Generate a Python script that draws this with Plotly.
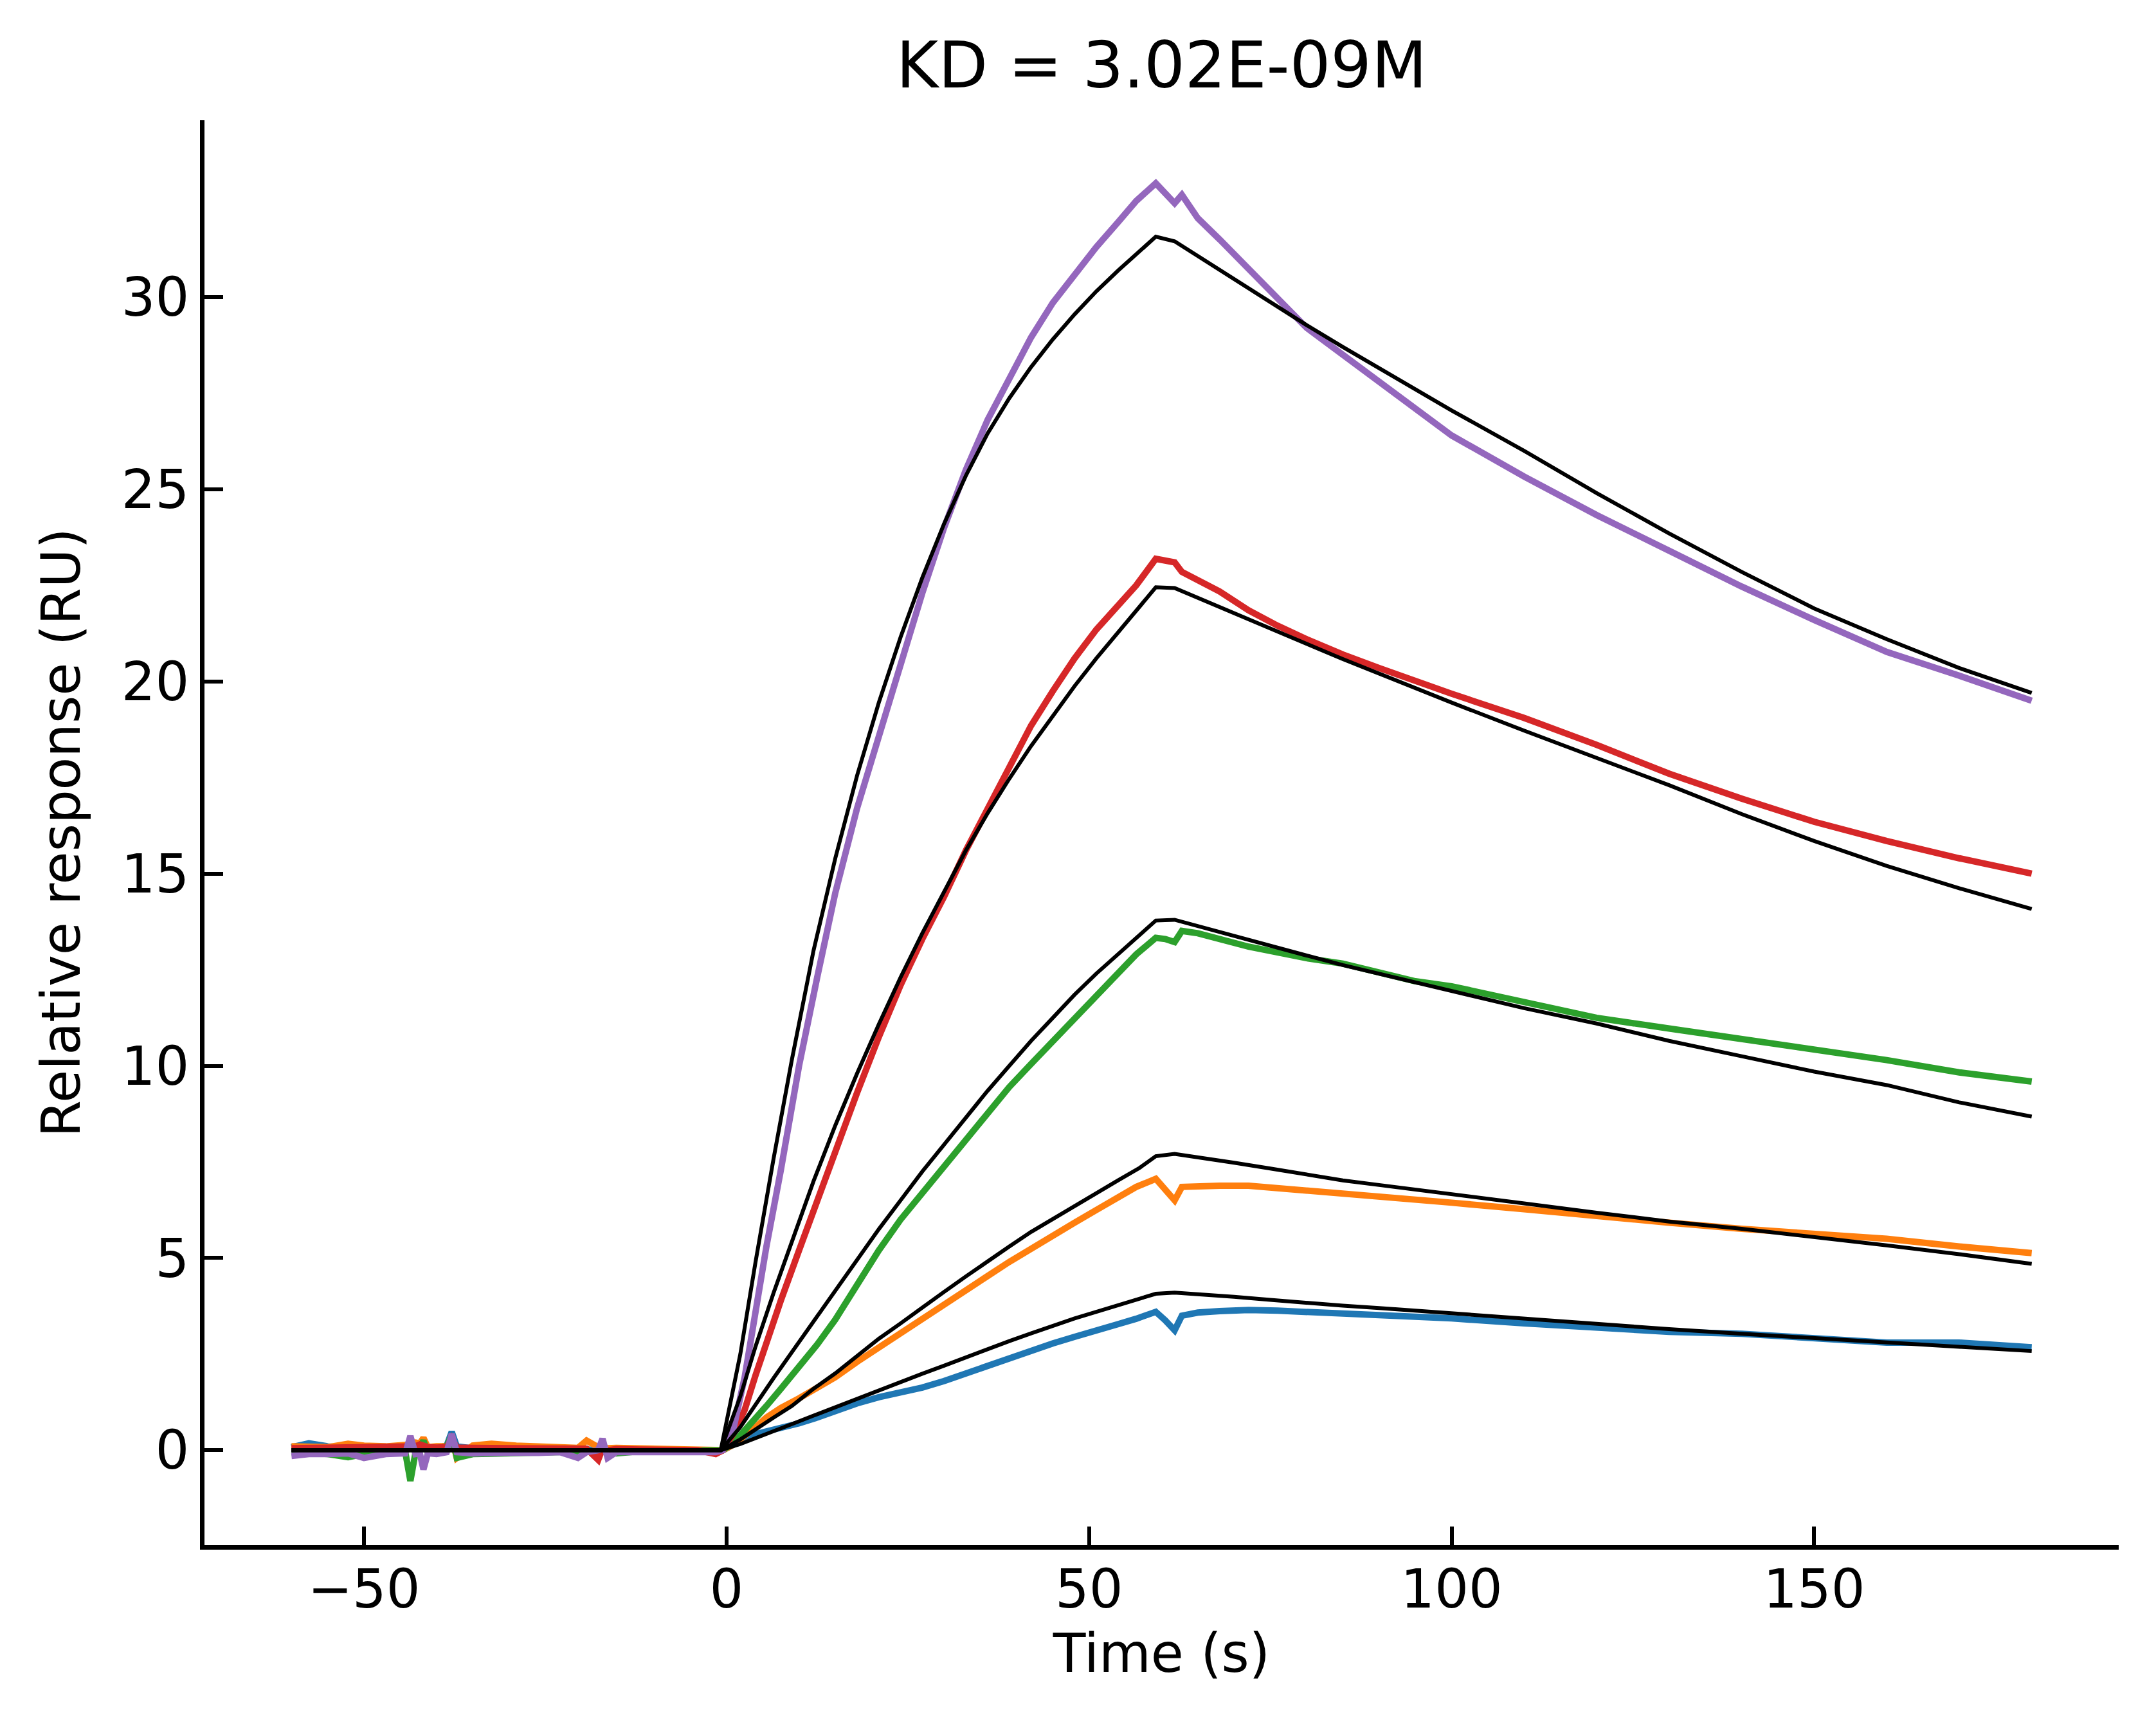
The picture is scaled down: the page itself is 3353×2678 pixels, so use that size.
import plotly.graph_objects as go

# sensorgram: time axis shared by all measured curves (s)
t_data = [-60, -57.6, -55, -52.2, -50, -47, -44.3, -43.6, -42.9, -42.3, -41.8, -41.2, -40, -38.6, -37.9,
          -37.2, -35, -32.4, -29, -26, -23, -20.5, -19.3, -17.7, -17.1, -16.4, -15.2, -12, -8, -4, -1.5,
          -0.5, 1, 2.5, 4, 5.5, 7.5, 10, 12.5, 15, 18, 21, 24, 27, 30, 33, 36, 39, 42, 45, 48, 51, 54, 56.5, 59.2,
          60.5, 61.8, 62.8, 65, 68, 72, 76, 80, 85, 90, 95, 100, 110, 120, 130, 140, 150, 160, 170, 180]

# measured responses (RU), lowest to highest concentration
resp_blue = [0.08, 0.18, 0.1, 0.06, 0.05, 0.04, 0.05, 0.06, 0.05, 0.04, 0.05, 0.04, 0.06, 0.12, 0.48,
             0.1, 0.05, 0.08, 0.03, 0.0, -0.02, -0.03, 0.02, 0.0, -0.03, -0.05, 0.0, 0.01, -0.02, 0.0, -0.02,
             0.0, 0.15, 0.33, 0.42, 0.48, 0.56, 0.7, 0.85, 1.02, 1.22, 1.38, 1.5, 1.63, 1.8, 2.0, 2.2, 2.42,
             2.6, 2.78, 2.95, 3.1, 3.28, 3.42, 3.6,
             3.38, 3.12, 3.5, 3.58, 3.62, 3.65, 3.63, 3.6, 3.56, 3.5, 3.47, 3.43, 3.3, 3.18, 3.08, 3.03, 2.93,
             2.8, 2.8, 2.68]
resp_orange = [0.1, 0.1, 0.08, 0.17, 0.12, 0.1, 0.12, 0.15, 0.2, 0.18, 0.32, 0.08, 0.1, 0.1, 0.35,
               -0.2, 0.12, 0.17, 0.12, 0.1, 0.08, 0.06, 0.25, 0.08, 0.08, 0.05, 0.06, 0.05, 0.04, 0.03, 0.0,
               0.0, 0.15, 0.35, 0.6, 0.85, 1.1, 1.35, 1.62, 1.9, 2.3, 2.68, 3.05, 3.42, 3.8, 4.17, 4.53, 4.9,
               5.25, 5.6, 5.92, 6.25, 6.6, 6.85, 7.06,
               6.8, 6.5, 6.85, 6.87, 6.88, 6.88, 6.82, 6.75, 6.7, 6.62, 6.53, 6.44, 6.27, 6.08, 5.92, 5.76,
               5.65, 5.5, 5.3, 5.13]
resp_green = [-0.05, -0.08, -0.1, -0.18, -0.1, -0.08, -0.05, -0.8, -0.06, 0.05, 0.25, -0.05, -0.06, 0.1, 0.4,
              -0.2, -0.1, -0.09, -0.08, -0.06, -0.05, -0.04, -0.03, -0.05, -0.02, -0.06, -0.08, -0.03, -0.02,
              -0.01, -0.02,
              0.0, 0.2, 0.5, 0.8, 1.15, 1.6, 2.15, 2.75, 3.4, 4.3, 5.2, 6.0, 6.7, 7.4, 8.1, 8.8, 9.45, 10.05,
              10.65, 11.2, 11.8, 12.4, 12.9, 13.33,
              13.3, 13.22, 13.51, 13.45, 13.3, 13.1, 12.95, 12.8, 12.66, 12.45, 12.2, 12.07, 11.65, 11.25,
              10.97, 10.7, 10.45, 10.15, 9.83, 9.59]
resp_red = [0.05, 0.06, 0.05, 0.06, 0.07, 0.08, 0.08, 0.1, 0.1, 0.15, 0.12, 0.08, 0.07, 0.08, 0.3,
            0.07, 0.06, 0.05, 0.06, 0.05, 0.04, 0.03, 0.04, -0.25, 0.05, 0.0, 0.03, 0.02, 0.0, 0.0, -0.1,
            0.0, 0.45, 1.05, 1.95, 2.8, 3.9, 5.2, 6.5, 7.85, 9.3, 10.75, 12.1, 13.3, 14.4, 15.6, 16.7, 17.75,
            18.85, 19.75, 20.6, 21.35, 22.0, 22.5, 23.19,
            23.15, 23.1, 22.85, 22.65, 22.34, 21.85, 21.45, 21.1, 20.7, 20.35, 20.0, 19.68, 19.05, 18.35,
            17.6, 16.95, 16.35, 15.85, 15.4, 15.0]
resp_purple = [-0.15, -0.1, -0.1, -0.08, -0.2, -0.1, -0.08, 0.37, -0.1, -0.08, -0.5, -0.08, -0.1, -0.05, 0.42,
               -0.05, -0.08, -0.06, -0.06, -0.07, -0.05, -0.2, -0.05, 0.0, 0.3, -0.2, -0.05, -0.05, -0.04,
               -0.04, -0.05,
               0.0, 0.6, 1.9, 3.6, 5.3, 7.3, 10.0, 12.3, 14.5, 16.7, 18.6, 20.5, 22.3, 24.0, 25.5, 26.8, 27.9,
               28.95, 29.85, 30.6, 31.3, 31.95, 32.5, 32.96,
               32.7, 32.44, 32.66, 32.05, 31.5, 30.75, 29.95, 29.2, 28.5, 27.8, 27.05, 26.4, 25.33, 24.33,
               23.4, 22.47, 21.6, 20.77, 20.15, 19.5]

# 1:1 binding model fit, evaluated on its own grid
t_fit = [-60, -0.8, 1.9, 4, 6.5, 9, 12, 15, 18, 21, 24, 27, 30, 33, 36, 39, 42, 45, 48, 51, 54, 57, 59.2,
         61.8, 66, 70, 75, 80, 85, 90, 100, 110, 120, 130, 140, 150, 160, 170, 180]
fit_blue = [0, 0, 0.16, 0.32, 0.5, 0.68, 0.9, 1.12, 1.35, 1.56, 1.78, 1.99, 2.2, 2.42, 2.63, 2.84, 3.04,
            3.24, 3.43, 3.6, 3.77, 3.94, 4.07,
            4.1, 4.05, 3.99, 3.91, 3.83, 3.76, 3.7, 3.56, 3.42, 3.28, 3.15, 3.03, 2.91, 2.8, 2.69, 2.58]
fit_orange = [0, 0, 0.28, 0.55, 0.85, 1.15, 1.6, 2.0, 2.45, 2.9, 3.3, 3.72, 4.12, 4.52, 4.92, 5.3, 5.68,
              6.02, 6.36, 6.7, 7.02, 7.35, 7.65,
              7.71, 7.6, 7.48, 7.33, 7.18, 7.02, 6.9, 6.65, 6.42, 6.18, 5.95, 5.76, 5.55, 5.33, 5.1, 4.85]
fit_green = [0, 0, 0.6, 1.2, 1.88, 2.55, 3.35, 4.15, 4.95, 5.75, 6.5, 7.25, 7.95, 8.65, 9.35, 10.0, 10.65,
             11.25, 11.85, 12.4, 12.9, 13.4, 13.78,
             13.8, 13.58, 13.38, 13.12, 12.87, 12.62, 12.4, 11.95, 11.5, 11.1, 10.65, 10.25, 9.85, 9.5,
             9.05, 8.68]
fit_red = [0, 0, 1.4, 2.7, 4.1, 5.45, 7.0, 8.45, 9.8, 11.08, 12.3, 13.45, 14.55, 15.6, 16.57, 17.47, 18.32,
           19.12, 19.88, 20.6, 21.28, 21.95, 22.45,
           22.43, 22.1, 21.78, 21.38, 20.98, 20.58, 20.2, 19.45, 18.72, 18.0, 17.3, 16.55, 15.85, 15.2,
           14.62, 14.08]
fit_purple = [0, 0, 2.5, 4.9, 7.6, 10.15, 13.0, 15.4, 17.55, 19.45, 21.15, 22.7, 24.1, 25.35, 26.45, 27.37,
              28.18, 28.9, 29.55, 30.15, 30.69, 31.2, 31.57,
              31.45, 30.95, 30.45, 29.85, 29.27, 28.7, 28.15, 27.05, 26.0, 24.9, 23.85, 22.85, 21.9, 21.1,
              20.35, 19.7]

x_ticks = [-50, 0, 50, 100, 150]
y_ticks = [0, 5, 10, 15, 20, 25, 30]

responses = [
    (resp_blue, "#1f77b4"),
    (resp_orange, "#ff7f0e"),
    (resp_green, "#2ca02c"),
    (resp_red, "#d62728"),
    (resp_purple, "#9467bd"),
]
fits = [fit_blue, fit_orange, fit_green, fit_red, fit_purple]

fig = go.Figure()
for vals, col in responses:
    fig.add_trace(go.Scatter(x=t_data, y=vals, mode="lines",
                             line=dict(color=col, width=10), showlegend=False))
for vals in fits:
    fig.add_trace(go.Scatter(x=t_fit, y=vals, mode="lines",
                             line=dict(color="black", width=6), showlegend=False))

axis_style = dict(
    showline=True, linecolor="black", linewidth=7,
    ticks="inside", ticklen=29, tickwidth=6, tickcolor="black",
    showgrid=False, zeroline=False, mirror=False,
    tickfont=dict(size=83, color="black"),
    automargin=False,
)

# the page body adds 8px around the plot, so the figure is a bit smaller than the window
W, H = 3337, 2662
fig.update_layout(
    width=W, height=H,
    margin=dict(l=310, r=50, t=179, b=267),
    paper_bgcolor="white", plot_bgcolor="white",
    font=dict(family="DejaVu Sans", size=83, color="black"),
    showlegend=False,
    title=dict(text="KD = 3.02E-09M", font=dict(size=100, color="black"),
               x=0.5, xref="paper", xanchor="center",
               y=1 - 93 / H, yref="container", yanchor="middle"),
)
fig.update_xaxes(range=[-72, 192], tickmode="array", tickvals=x_ticks, ticklabelstandoff=-10,
                 title=dict(text="Time (s)", font=dict(size=83), standoff=26), **axis_style)
fig.update_yaxes(range=[-2.47, 34.6], tickmode="array", tickvals=y_ticks,
                 title=dict(text="Relative response (RU)", font=dict(size=83), standoff=39), **axis_style)

fig.write_html("out.html")
